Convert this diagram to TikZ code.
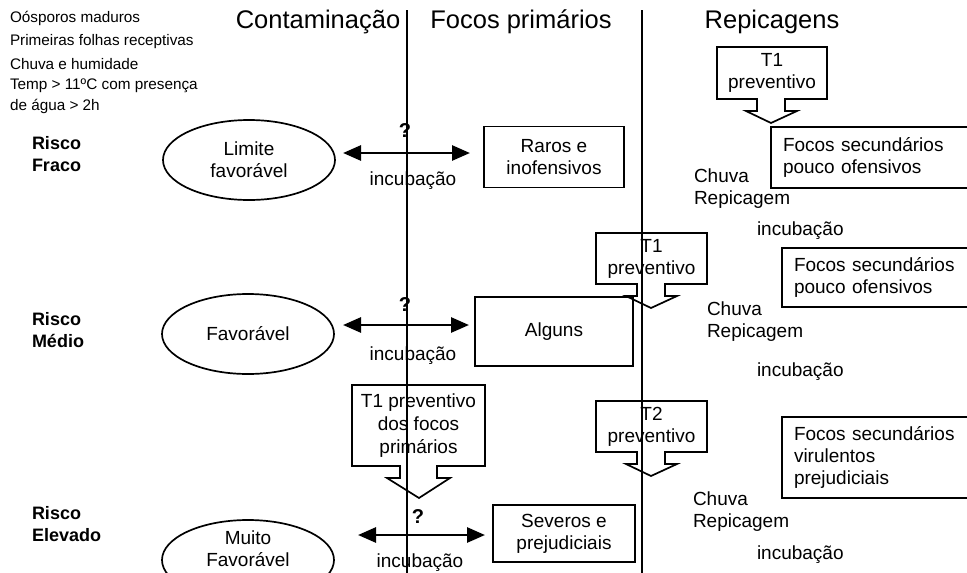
\documentclass[tikz,border=0pt]{standalone}
\usepackage{fontspec}
\setmainfont{Liberation Sans}
\usetikzlibrary{arrows.meta,shapes.geometric,calc}
\begin{document}
\begin{tikzpicture}[x=1pt,y=-1pt,
  every node/.style={inner sep=0pt, outer sep=0pt},
  note/.style={anchor=west, font=\fontsize{15.3}{22}\selectfont},
  head/.style={font=\fontsize{25.5}{30}\selectfont},
  risk/.style={anchor=west, align=left, font=\fontsize{18}{22}\selectfont\bfseries},
  txt/.style={font=\fontsize{19}{22}\selectfont, align=center},
  ltxt/.style={txt, anchor=west, align=left},
  oval/.style={txt, draw, line width=1.7pt, ellipse, minimum width=172pt, minimum height=80pt},
  box/.style={txt, draw, line width=1.7pt, rectangle},
  sbox/.style={txt, draw, line width=1.7pt, rectangle, anchor=north west, align=left,
               text width=186pt, inner xsep=12pt, minimum width=210pt},
  cbox/.style={txt, anchor=north west},
  outl/.style={line width=1.7pt, line join=miter},
  dbl/.style={line width=2.8pt, {Triangle[length=18pt,width=15pt]}-{Triangle[length=18pt,width=15pt]}},
  divider/.style={line width=1.1pt},
  qmark/.style={font=\fontsize{20}{24}\selectfont\bfseries},
]
\useasboundingbox (0,0) rectangle (967,573);
\clip (0,0) rectangle (967,573);

% conditions
\node[note] (n1) at (10,18)  {Oósporos maduros};
\node[note] (n2) at (10,42)  {Primeiras folhas receptivas};
\node[note] (n3) at (10,64)  {Chuva e humidade};
\node[note] (n4) at (10,86)  {Temp > 11ºC com presença};
\node[note] (n5) at (10,106) {de água > 2h};

% column titles
\node[head] (h1) at (318,22) {Contaminação};
\node[head] (h2) at (521,22) {Focos primários};
\node[head] (h3) at (772,22) {Repicagens};

% risk levels
\node[risk] (r1) at (32,154) {Risco\\Fraco};
\node[risk] (r2) at (32,330) {Risco\\Médio};
\node[risk] (r3) at (32,524) {Risco\\Elevado};

% contamination conditions
\node[oval] (e1) at (249,160) {Limite\\favorável};
\node[oval] (e2) at (248,334) {Favorável};
\node[oval, minimum height=80pt] (e3) at (248,560) {};
\node[txt] (e3t) at (248,549) {Muito\\Favorável};

% primary foci
\node[box, minimum width=140pt, minimum height=61pt] (b1) at (554,157) {Raros e\\inofensivos};
\node[box, minimum width=158pt, minimum height=69pt] (b2) at (554,331.5) {Alguns};
\node[box, minimum width=142pt, minimum height=57pt] (b3) at (564,533.5) {Severos e\\prejudiciais};

% incubation links
\draw[dbl] ($(e1.east)+(8,-7)$) -- ($(b1.west)+(-14,-4)$);
\draw[dbl] ($(e2.east)+(9,-9)$) -- ($(b2.west)+(-6,-6.5)$);
\draw[dbl] ($(e3.east)+(24,-25)$) -- ($(b3.west)+(-8,1.5)$);
\node[qmark] (q1) at (405,131) {?};
\node[qmark] (q2) at (405,305) {?};
\node[qmark] (q3) at (418,517) {?};
\node[txt] (i1) at (413,181) {incubação};
\node[txt] (i2) at (413,356) {incubação};
\node[txt] (i3) at (420,563) {incubação};

% treatment callouts
\node[cbox, minimum width=110pt, minimum height=52pt] (c1) at (717,47) {T1\\preventivo};
\draw[outl] (c1.south west) -- (c1.north west) -- (c1.north east) -- (c1.south east)
  -- ($(c1.south west)+(68,0)$) -- ++(0,12) -- ++(12,0) -- ($(c1.south west)+(54,24)$)
  -- ($(c1.south west)+(29,12)$) -- ++(11,0) -- ($(c1.south west)+(40,0)$) -- cycle;

\node[cbox, minimum width=111pt, minimum height=51pt] (c2) at (596,233) {T1\\preventivo};
\draw[outl] (c2.south west) -- (c2.north west) -- (c2.north east) -- (c2.south east)
  -- ($(c2.south west)+(69,0)$) -- ++(0,12) -- ++(12,0) -- ($(c2.south west)+(55,24)$)
  -- ($(c2.south west)+(30,12)$) -- ++(11,0) -- ($(c2.south west)+(41,0)$) -- cycle;

\node[cbox, minimum width=111pt, minimum height=51pt] (c4) at (596,401) {T2\\preventivo};
\draw[outl] (c4.south west) -- (c4.north west) -- (c4.north east) -- (c4.south east)
  -- ($(c4.south west)+(69,0)$) -- ++(0,12) -- ++(12,0) -- ($(c4.south west)+(55,24)$)
  -- ($(c4.south west)+(30,12)$) -- ++(11,0) -- ($(c4.south west)+(41,0)$) -- cycle;

\node[cbox, font=\fontsize{19}{23}\selectfont, minimum width=133pt, minimum height=81pt] (c3) at (352,385)
  {T1 preventivo\\dos focos\\primários};
\draw[outl] (c3.south west) -- (c3.north west) -- (c3.north east) -- (c3.south east)
  -- ($(c3.south west)+(85,0)$) -- ++(0,12) -- ++(13,0) -- ($(c3.south west)+(67,32)$)
  -- ($(c3.south west)+(35,12)$) -- ++(13,0) -- ($(c3.south west)+(48,0)$) -- cycle;

% secondary foci
\node[sbox, minimum height=61pt] (s1) at (771,127) {Focos secundários\\pouco ofensivos};
\node[sbox, minimum height=59pt] (s2) at (782,248) {Focos secundários\\pouco ofensivos};
\node[sbox, minimum height=81pt] (s3) at (782,417) {Focos secundários\\virulentos\\prejudiciais};

\node[ltxt] (w1) at (694,189) {Chuva\\Repicagem};
\node[ltxt] (w2) at (707,322) {Chuva\\Repicagem};
\node[ltxt] (w3) at (693,512) {Chuva\\Repicagem};
\node[ltxt] (k1) at (757,231) {incubação};
\node[ltxt] (k2) at (757,372) {incubação};
\node[ltxt] (k3) at (757,555) {incubação};

% column dividers
\coordinate (d1t) at (407,10);  \coordinate (d1b) at (407,573);
\coordinate (d2t) at (642,10);  \coordinate (d2b) at (642,573);
\draw[divider] (d1t) -- (d1b);
\draw[divider] (d2t) -- (d2b);
\end{tikzpicture}
\end{document}
